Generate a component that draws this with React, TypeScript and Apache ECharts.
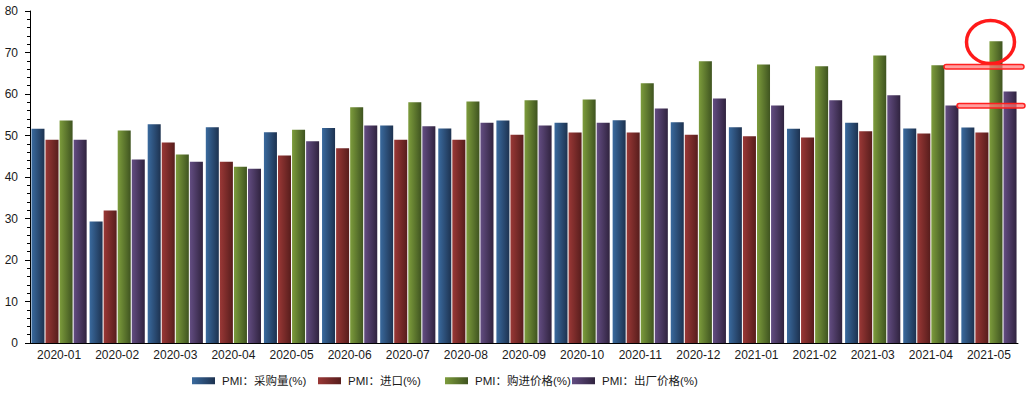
import React, { useEffect, useRef } from "react";
import * as echarts from "echarts";

const categories = [
  "2020-01", "2020-02", "2020-03", "2020-04", "2020-05", "2020-06", "2020-07", "2020-08", "2020-09",
  "2020-10", "2020-11", "2020-12", "2021-01", "2021-02", "2021-03", "2021-04", "2021-05",
];
const seriesNames = ["PMI：采购量(%)", "PMI：进口(%)", "PMI：购进价格(%)", "PMI：出厂价格(%)"];
const purchase = [51.6, 29.3, 52.7, 52.0, 50.8, 51.8, 52.4, 51.7, 53.6, 53.1, 53.7, 53.2, 52.0, 51.6, 53.1, 51.7, 51.9];
const imports = [49.0, 31.9, 48.3, 43.7, 45.2, 46.9, 49.0, 49.0, 50.2, 50.7, 50.7, 50.2, 49.8, 49.5, 51.0, 50.5, 50.7];
const inputPrice = [53.6, 51.2, 45.4, 42.5, 51.4, 56.8, 58.0, 58.2, 58.5, 58.7, 62.6, 67.9, 67.1, 66.7, 69.3, 66.9, 72.7];
const outputPrice = [49.0, 44.2, 43.7, 42.0, 48.6, 52.4, 52.2, 53.1, 52.4, 53.1, 56.5, 58.9, 57.2, 58.5, 59.7, 57.2, 60.6];
const yTicks = [0, 10, 20, 30, 40, 50, 60, 70, 80];

const colorStops: [string, string][] = [
  ["#3a6a9e", "#1d3250"],
  ["#9a3836", "#571d1c"],
  ["#7d9c3c", "#3f5420"],
  ["#634d82", "#30233f"],
];
const legendLefts = [192, 318, 445, 572];

const FONT = '"Liberation Sans", Arial, "Noto Sans CJK SC", sans-serif';

export default function App() {
  const ref = useRef<HTMLDivElement>(null);
  useEffect(() => {
    if (!ref.current) return;
    const chart = echarts.init(ref.current, undefined, { renderer: "svg" });
    const dataSets = [purchase, imports, inputPrice, outputPrice];
    const grad = (c: [string, string]) =>
      new echarts.graphic.LinearGradient(0, 0, 1, 0, [
        { offset: 0, color: c[0] },
        { offset: 1, color: c[1] },
      ]);
    chart.setOption({
      animation: false,
      textStyle: { fontFamily: FONT },
      grid: { left: 30, right: 11, top: 11, bottom: 51, containLabel: false },
      legend: seriesNames.map((n, i) => ({
        data: [n],
        left: legendLefts[i],
        top: 375,
        padding: 0,
        icon: "rect",
        itemWidth: 23,
        itemHeight: 7,
        itemGap: 0,
        selectedMode: false,
        textStyle: { fontSize: 11.5, color: "#1a1a1a", fontFamily: FONT, padding: [0, 0, 0, 2] },
      })),
      xAxis: {
        type: "category",
        data: categories,
        boundaryGap: true,
        axisLine: { lineStyle: { color: "#000", width: 1 } },
        axisTick: { alignWithLabel: true, length: 4, lineStyle: { color: "#000" } },
        axisLabel: { fontSize: 12, color: "#1a1a1a", margin: 6, interval: 0, fontFamily: FONT },
        splitLine: { show: false },
      },
      yAxis: {
        type: "value",
        min: yTicks[0],
        max: yTicks[yTicks.length - 1],
        interval: 10,
        axisLine: { show: true, lineStyle: { color: "#000", width: 1 } },
        axisTick: { show: true, length: 5, lineStyle: { color: "#000" } },
        minorTick: { show: true, splitNumber: 5, length: 3, lineStyle: { color: "#000" } },
        axisLabel: { fontSize: 12, color: "#1a1a1a", margin: 12, fontFamily: FONT },
        splitLine: { show: false },
      },
      series: seriesNames.map((n, i) => ({
        name: n,
        type: "bar",
        data: dataSets[i],
        barGap: "8%",
        barCategoryGap: "5%",
        itemStyle: { color: grad(colorStops[i]) },
      })),
      graphic: [
        {
          type: "ellipse",
          shape: { cx: 990.5, cy: 42, rx: 24, ry: 21.5 },
          style: { fill: "none", stroke: "#ff1a1a", lineWidth: 3.5 },
          z: 100,
        },
        {
          type: "rect",
          shape: { x: 944, y: 64.5, width: 80, height: 4.5, r: 2.25 },
          style: { fill: "rgba(255,120,120,0.7)", stroke: "#ff2020", lineWidth: 1.5 },
          z: 100,
        },
        {
          type: "rect",
          shape: { x: 957, y: 103.5, width: 68, height: 4.5, r: 2.25 },
          style: { fill: "rgba(255,120,120,0.7)", stroke: "#ff2020", lineWidth: 1.5 },
          z: 100,
        },
      ],
    });
    return () => chart.dispose();
  }, []);
  return (
    <div
      ref={ref}
      style={{ position: "absolute", left: 0, top: 0, width: 1029, height: 394, background: "#fff" }}
    />
  );
}
